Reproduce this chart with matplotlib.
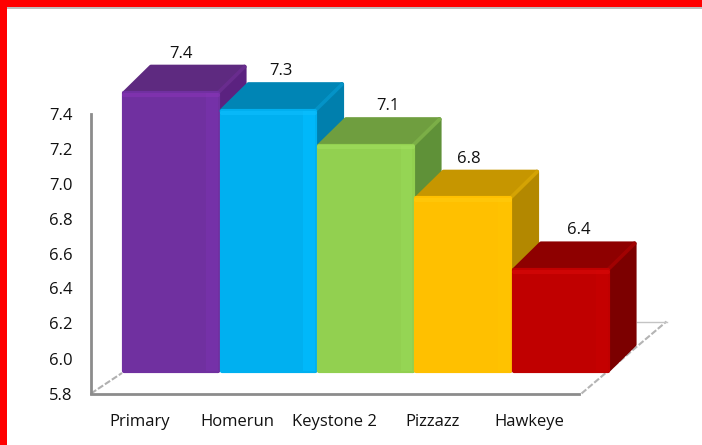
#! /usr/bin/env python

from matplotlib import pyplot as plt
from matplotlib.patches import Polygon, Rectangle

names = ['Primary', 'Homerun', 'Keystone 2', 'Pizzazz', 'Hawkeye']
# bar heights as measured; the printed labels are these to one decimal
values = [7.41, 7.31, 7.11, 6.81, 6.40]
yticks = [5.8, 6.0, 6.2, 6.4, 6.6, 6.8, 7.0, 7.2, 7.4]

front = ['#7030A0', '#00B0F0', '#92D050', '#FFC000', '#C00000']
band = ['#7531A8', '#00B8FA', '#95D554', '#FFC200', '#C40000']
glow = ['#8A35B8', '#10C0FF', '#A2E060', '#FFCC10', '#DC0A0A']
top = ['#5E2A80', '#0085B5', '#6F9E3F', '#C69600', '#8E0000']
side = ['#5B2280', '#007FAD', '#5F9138', '#B38800', '#7C0000']

YMIN = 5.8
W, H = 702, 445
PX_X = 97.5   # pixels per category
PX_Y = 175.0  # pixels per value unit
# 3d look: floor offset of the bar front and the depth of a bar, in axis units
FX, FY = 31 / PX_X, 20.5 / PX_Y
DX, DY = 27 / PX_X, 26.5 / PX_Y
label_dx = [-3, -1, 9, -8, 5]
GRAY = '#8C8C8C'
FAMILY = 'Open Sans'


def draw_bar(ax, i, v):
  z = 3 + i * 2
  # faces are inset a little, the thick round edge brings them back out
  gx, gy = 2 / PX_X, 2 / PX_Y
  x0, x1 = i - .5 + FX + gx, i + .5 + FX - gx
  y0, y1 = YMIN + FY + gy, v + FY - gy
  ax.add_patch(Polygon([(x1, y0), (x1 + DX, y0 + DY), (x1 + DX, y1 + DY), (x1, y1)],
                       fc=side[i], ec=side[i], lw=3, joinstyle='round',
                       clip_on=False, zorder=z))
  ax.add_patch(Polygon([(x0, y1), (x0 + DX, y1 + DY), (x1 + DX, y1 + DY), (x1, y1)],
                       fc=top[i], ec=top[i], lw=3, joinstyle='round',
                       clip_on=False, zorder=z))
  # soft edge between top and side
  ax.plot([x1, x1 + DX], [y1, y1 + DY], color=glow[i], lw=2.5, alpha=.25,
          solid_capstyle='round', clip_on=False, zorder=z)
  ax.bar((x0 + x1) / 2, y1 - y0, bottom=y0, width=x1 - x0, color=front[i], ec=front[i], lw=3,
         joinstyle='round', clip_on=False, zorder=z + 1)
  # lighter strip on the right and along the top of the front
  ax.bar(x1 - .06, y1 - y0, bottom=y0, width=.12, color=band[i], clip_on=False, zorder=z + 1)
  ax.plot([x0, x1], [y1 - .01, y1 - .01], color=glow[i], lw=3, alpha=.55,
          solid_capstyle='round', clip_on=False, zorder=z + 1)


def main():
  fig = plt.figure(figsize=(W / 100, H / 100), dpi=100)
  fig.add_artist(Rectangle((0, 1 - 7 / H), 1, 7 / H, fc='#FF0000', ec='none'))
  fig.add_artist(Rectangle((0, 0), 7 / W, 1, fc='#FF0000', ec='none'))
  fig.add_artist(Rectangle((7 / W, 1 - 9 / H), 1, 2 / H, fc='#BEBEBE', ec='none'))

  ax = fig.add_axes([91 / W, (H - 393.5) / H, 487.5 / W, 280 / H])
  ax.set_xlim(-.5, 4.5)
  ax.set_ylim(YMIN, yticks[-1])
  for s in ['top', 'right']:
    ax.spines[s].set_visible(False)
  for s in ['left', 'bottom']:
    ax.spines[s].set_color(GRAY)
    ax.spines[s].set_linewidth(2)
  ax.set_yticks(yticks)
  ax.set_yticklabels(['%.1f' % t for t in yticks], family=FAMILY, fontsize=12, color='#111111')
  ax.set_xticks(range(len(names)))
  ax.set_xticklabels(names, family=FAMILY, fontsize=12, color='#111111')
  ax.tick_params(axis='y', length=0, pad=13.5)
  ax.tick_params(axis='x', length=0, pad=14.5)

  # floor edges
  floor_x = 4.5 + 3 / PX_X
  back_dx, back_dy = 85 / PX_X, 72 / PX_Y
  ax.plot([-.5, -.5 + FX], [YMIN, YMIN + FY], color='#B0B0B0', lw=1.5, ls=(0, (3, 1)),
          clip_on=False, zorder=2)
  ax.plot([floor_x, floor_x + back_dx], [YMIN, YMIN + back_dy], color='#B4B4B4', lw=1.5,
          ls=(0, (3, 1)), clip_on=False, zorder=2)
  ax.plot([floor_x + back_dx - 30 / PX_X, floor_x + back_dx], [YMIN + back_dy, YMIN + back_dy],
          color='#C4C4C4', lw=1, clip_on=False, zorder=2)

  for i, v in enumerate(values):
    draw_bar(ax, i, v)
    ax.annotate('%.1f' % v, (i + FX + DX / 2, v + FY + DY), xytext=(label_dx[i], 3),
                textcoords='offset pixels', ha='center', va='bottom', family=FAMILY,
                fontsize=12, color='#111111', annotation_clip=False, zorder=20)

  fig.savefig('out.png', dpi=100)


if __name__ == "__main__":
  main()
